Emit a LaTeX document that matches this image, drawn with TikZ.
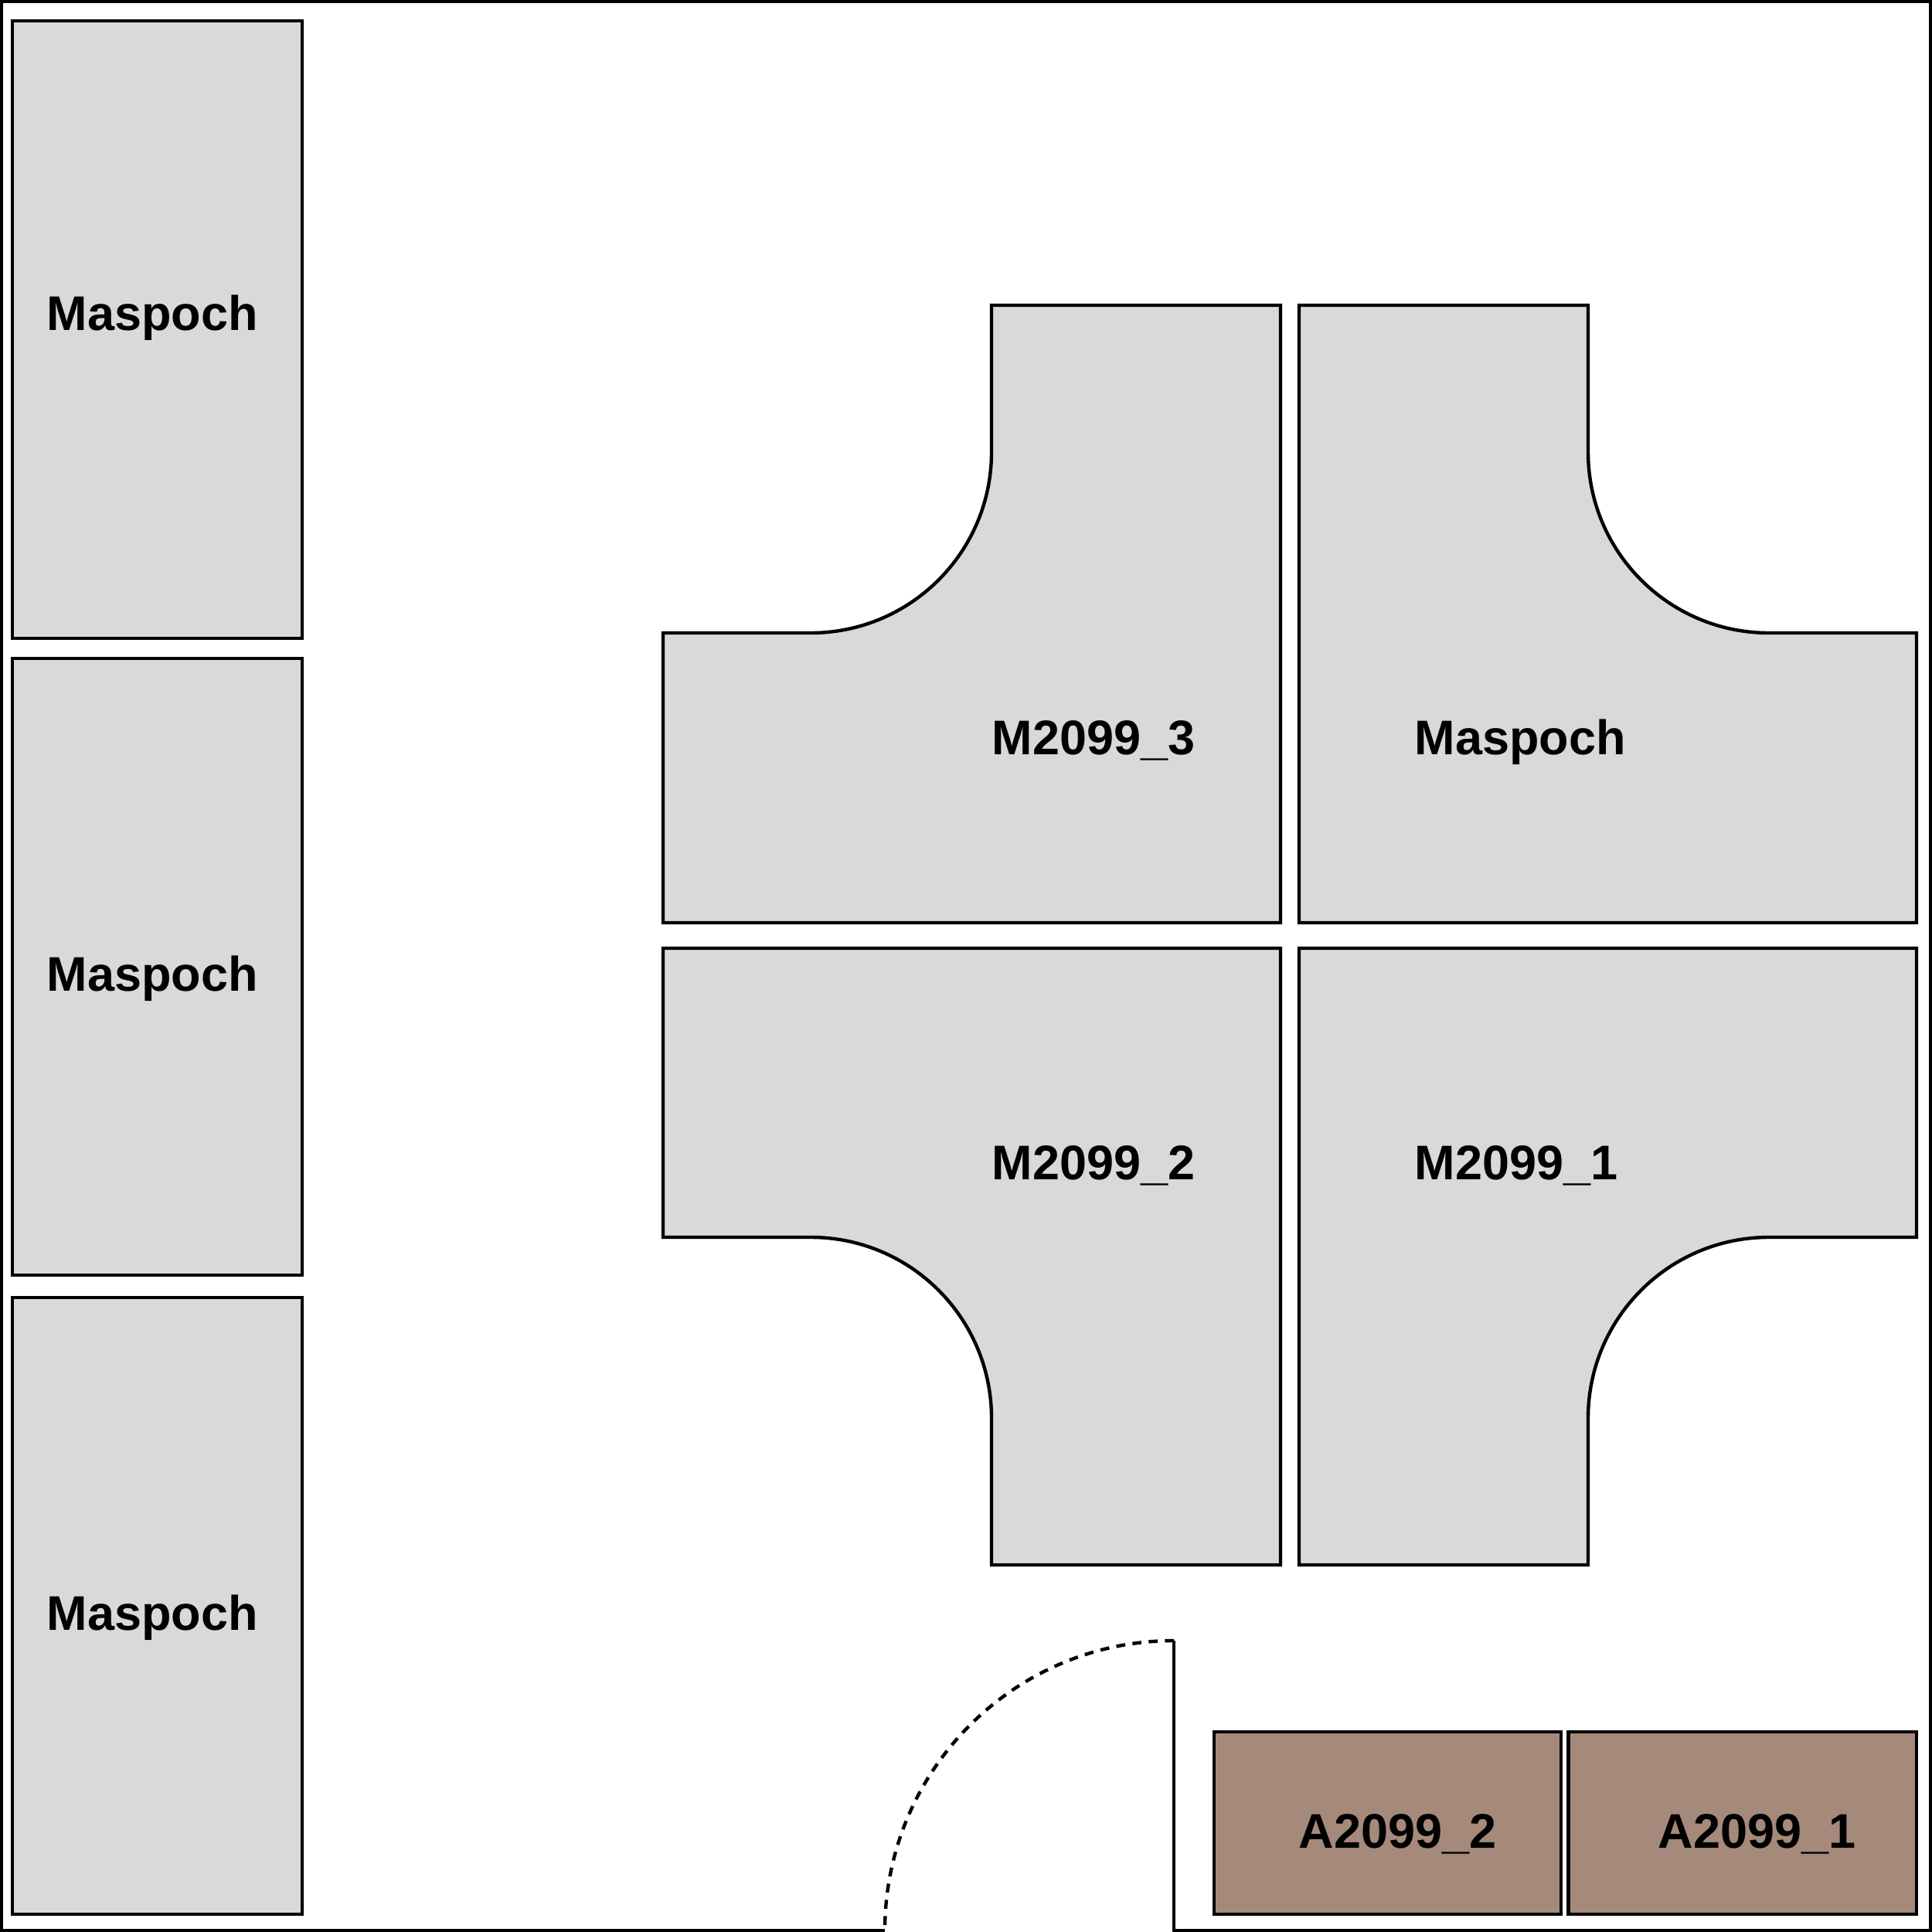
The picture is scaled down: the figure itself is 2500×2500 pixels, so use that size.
\documentclass[tikz,border=0pt]{standalone}
\usepackage{fontspec}
\setmainfont{Liberation Sans}
\definecolor{roomgray}{HTML}{D9D9D9}
\definecolor{roombrown}{HTML}{A5897A}
\tikzset{
  wall/.style={draw=black,line width=1.3pt,line join=miter},
  door/.style={draw=black,line width=1.25pt,dash pattern=on 3.3pt off 2.7pt},
  desk/.style={draw=black,line width=1.25pt,fill=roomgray,line join=miter},
  cab/.style={draw=black,line width=1.25pt,fill=roombrown,line join=miter},
  lab/.style={anchor=base west,inner sep=0pt,font=\fontsize{17.9pt}{20pt}\selectfont\bfseries},
}
\begin{document}
\begin{tikzpicture}[x=0.01cm,y=-0.01cm]
\useasboundingbox (0,0) rectangle (2500,2500);
\fill[white] (0,0) rectangle (2500,2500);
% outer walls
\draw[wall] (1145,2498) -- (2,2498) -- (2,2) -- (2498,2) -- (2498,2498) -- (1519,2498) -- (1519,2123);
\draw[door] (1519,2123) arc[start angle=90,end angle=180,x radius=374,y radius=-375];
% column
\draw[desk] (16,27) rectangle (391,826);
\draw[desk] (16,852) rectangle (391,1650);
\draw[desk] (16,1679) rectangle (391,2477);
% four shapes
\draw[desk] (858,819) -- (1049,819) arc[start angle=270,end angle=360,x radius=234,y radius=-234] -- (1283,395) -- (1657,395) -- (1657,1194) -- (858,1194) -- cycle;
\draw[desk] (2480,819) -- (2289,819) arc[start angle=270,end angle=180,x radius=234,y radius=-234] -- (2055,395) -- (1681,395) -- (1681,1194) -- (2480,1194) -- cycle;
\draw[desk] (858,1601) -- (1049,1601) arc[start angle=90,end angle=0,x radius=234,y radius=-234] -- (1283,2025) -- (1657,2025) -- (1657,1227) -- (858,1227) -- cycle;
\draw[desk] (2480,1601) -- (2289,1601) arc[start angle=90,end angle=180,x radius=234,y radius=-234] -- (2055,2025) -- (1681,2025) -- (1681,1227) -- (2480,1227) -- cycle;
% cabinets
\draw[cab] (1571,2241) rectangle (2020,2477);
\draw[cab] (2029.5,2241) rectangle (2480,2477);
% labels
\node[lab] (l1) at (60,427) {Maspoch};
\node[lab] (l2) at (60,1282) {Maspoch};
\node[lab] (l3) at (60,2109) {Maspoch};
\node[lab] (l4) at (1283,976) {M2099\_3};
\node[lab] (l5) at (1830,976) {Maspoch};
\node[lab] (l6) at (1283,1526) {M2099\_2};
\node[lab] (l7) at (1830,1526) {M2099\_1};
\node[lab] (l8) at (1680,2391) {A2099\_2};
\node[lab] (l9) at (2145,2391) {A2099\_1};
\end{tikzpicture}
\end{document}
